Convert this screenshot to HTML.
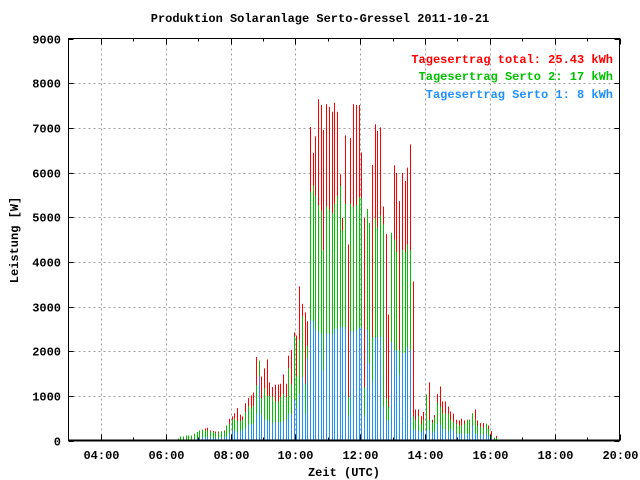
<!DOCTYPE html>
<html><head><meta charset="utf-8"><style>
html,body{margin:0;padding:0;background:#fff;}
svg{display:block;font-family:"Liberation Mono",monospace;font-weight:bold;}
</style></head><body>
<svg id="chart" width="640" height="480" viewBox="0 0 640 480" xmlns="http://www.w3.org/2000/svg">
<rect x="0" y="0" width="640" height="480" fill="#fff"/>
<text x="320" y="22" text-anchor="middle" font-size="12" fill="#000">Produktion Solaranlage Serto-Gressel 2011-10-21</text>
<g id="grid"></g>
<g id="bars"></g>
<g id="axes"></g>
<text x="613" y="63" text-anchor="end" font-size="12" fill="#ff0000">Tagesertrag total: 25.43 kWh</text>
<text x="613" y="80" text-anchor="end" font-size="12" fill="#00c000">Tagesertrag Serto 2: 17 kWh</text>
<text x="613" y="98" text-anchor="end" font-size="12" fill="#1e90ff">Tagesertrag Serto 1: 8 kWh</text>
<text x="344" y="476" text-anchor="middle" font-size="12" fill="#000">Zeit (UTC)</text>
<text transform="translate(18,240) rotate(-90)" text-anchor="middle" font-size="12" fill="#000">Leistung [W]</text>
</svg>
<script>
// time of first bar (hours) and step (5 min)
const startHour = 6.2;
const stepHour = 5 / 60;
// Serto 1 (blue, bottom)
const serto1 = [0,0,0,0,10,10,20,20,30,40,60,70,80,80,70,60,60,60,60,80,100,165,240,225,180,210,240,285,360,360,375,585,1435,585,465,465,435,405,410,410,410,435,480,600,600,900,730,1045,1420,600,1830,2690,2670,2500,2440,2390,1570,2390,2390,2390,2500,2500,2550,2550,2540,560,2450,2450,2465,2525,2525,560,2480,1720,1345,2300,2315,2315,760,450,450,2200,2015,2015,1480,1960,1960,2080,2030,240,240,225,185,225,225,225,180,225,375,350,240,260,200,260,225,150,150,150,150,150,150,335,150,150,130,140,150,100,60,20,20];
// Serto 1 + Serto 2 (green top)
const greenTop = [20,20,45,90,90,110,110,110,150,190,225,245,225,225,200,190,165,165,205,205,335,375,465,495,435,435,465,635,775,730,775,1235,1790,945,1165,1000,1000,985,875,875,975,1045,975,1620,1255,2330,1435,2255,2780,1270,2120,5565,5710,5470,5270,5150,4260,5240,5170,5090,5300,5470,5700,4700,5300,970,5300,5230,5270,5440,5440,1195,5180,4870,2315,4970,4770,5040,4840,935,750,4650,4500,4220,2030,4270,4220,4390,4260,540,450,545,360,465,1030,465,400,520,850,760,600,610,600,465,410,375,335,335,375,450,465,610,465,335,310,285,375,260,110,60,60];
// Total (red top)
const total = [20,20,45,90,90,110,110,110,150,190,225,245,270,285,225,215,200,200,205,225,335,485,540,610,725,580,540,835,950,1010,1075,1870,1790,1435,1615,1815,1300,1195,1250,1255,1270,1480,1270,1900,2030,2420,2350,3450,3060,2870,2670,7020,6440,6810,7640,7510,6950,7530,7470,7360,7560,7360,5960,4980,6830,4390,6770,7530,7510,7510,6450,4980,5180,4870,6170,7080,6930,7010,5240,4620,2820,4650,6160,5990,5360,5990,5810,6110,6630,3560,695,695,545,640,1030,1300,465,570,1045,1210,875,875,760,650,600,465,450,490,450,465,465,610,695,450,390,390,375,335,210,60,105];
const yTicks = [0,1000,2000,3000,4000,5000,6000,7000,8000,9000];
const yTickLabels = ["0","1000","2000","3000","4000","5000","6000","7000","8000","9000"];
const xTicks = [4,6,8,10,12,14,16,18,20];
const xTickLabels = ["04:00","06:00","08:00","10:00","12:00","14:00","16:00","18:00","20:00"];

const NS = "http://www.w3.org/2000/svg";
const L = 68.5, R = 619.5, T = 38.5, B = 440.5;
const xMin = 3, xMax = 20, yMin = 0, yMax = 9000;
function xs(h){ return L + (h - xMin) / (xMax - xMin) * (R - L); }
function ys(v){ return B - (v - yMin) / (yMax - yMin) * (B - T); }
function mk(tag, attrs, parent){
  const e = document.createElementNS(NS, tag);
  for (const k in attrs) e.setAttribute(k, attrs[k]);
  parent.appendChild(e);
  return e;
}
const grid = document.getElementById('grid');
const bars = document.getElementById('bars');
const axes = document.getElementById('axes');

// grid lines
yTicks.forEach(function(v){
  if (v === yMin || v === yMax) return;
  const g = mk('line', {x1:L, x2:R, y1:Math.round(ys(v))+0.5, y2:Math.round(ys(v))+0.5, stroke:'#a0a0a0', 'stroke-dasharray':'2,3', 'stroke-width':1}, grid);
  
  
});
xTicks.forEach(function(h){
  if (h === xMax) return;
  const g = mk('line', {x1:Math.round(xs(h))+0.5, x2:Math.round(xs(h))+0.5, y1:T, y2:B, stroke:'#a0a0a0', 'stroke-dasharray':'2,3', 'stroke-width':1}, grid);
  
  
});

// bars
for (let i = 0; i < total.length; i++) {
  const x = Math.round(xs(startHour + i * stepHour));
  const r = mk('rect', {x:x, y:ys(total[i]), width:1, height:B - ys(total[i]), fill:'#ff0000'}, bars);
  
  
  const g = mk('rect', {x:x, y:ys(greenTop[i]), width:1, height:B - ys(greenTop[i]), fill:'#00c000'}, bars);
  
  
  const b = mk('rect', {x:x, y:ys(serto1[i]), width:1, height:B - ys(serto1[i]), fill:'#1e90ff'}, bars);
  
  
}

// frame
const frame = mk('rect', {x:L, y:T, width:R-L, height:B-T, fill:'none', stroke:'#000', 'stroke-width':1}, axes);


const base = mk('line', {x1:L, x2:R, y1:B, y2:B, stroke:'#000', 'stroke-width':2}, axes);



// y ticks + labels
yTicks.forEach(function(v, i){
  const y = Math.round(ys(v)) + 0.5;
  const t1 = mk('line', {x1:L, x2:L+5, y1:y, y2:y, stroke:'#000'}, axes);
  
  
  const t2 = mk('line', {x1:R-5, x2:R, y1:y, y2:y, stroke:'#000'}, axes);
  
  
  const tx = mk('text', {x:61, y:y+4, 'text-anchor':'end', 'font-size':12, fill:'#000'}, axes);
  tx.textContent = yTickLabels[i];
  
  
});

// x ticks + labels
xTicks.forEach(function(h, i){
  const x = Math.round(xs(h)) + 0.5;
  const t1 = mk('line', {x1:x, x2:x, y1:B, y2:B-6, stroke:'#000'}, axes);
  
  
  const t2 = mk('line', {x1:x, x2:x, y1:T, y2:T+6, stroke:'#000'}, axes);
  
  
  const tx = mk('text', {x:x, y:459, 'text-anchor':'middle', 'font-size':12, fill:'#000'}, axes);
  tx.textContent = xTickLabels[i];
  
  
});
// minor ticks at odd hours
for (let h = xMin; h < xMax; h += 2) {
  const x = Math.round(xs(h)) + 0.5;
  if (h === xMin) continue;
  const m1 = mk('line', {x1:x, x2:x, y1:B, y2:B-3, stroke:'#000'}, axes);
  
  
  const m2 = mk('line', {x1:x, x2:x, y1:T, y2:T+3, stroke:'#000'}, axes);
  
  
}
</script>
</body></html>
